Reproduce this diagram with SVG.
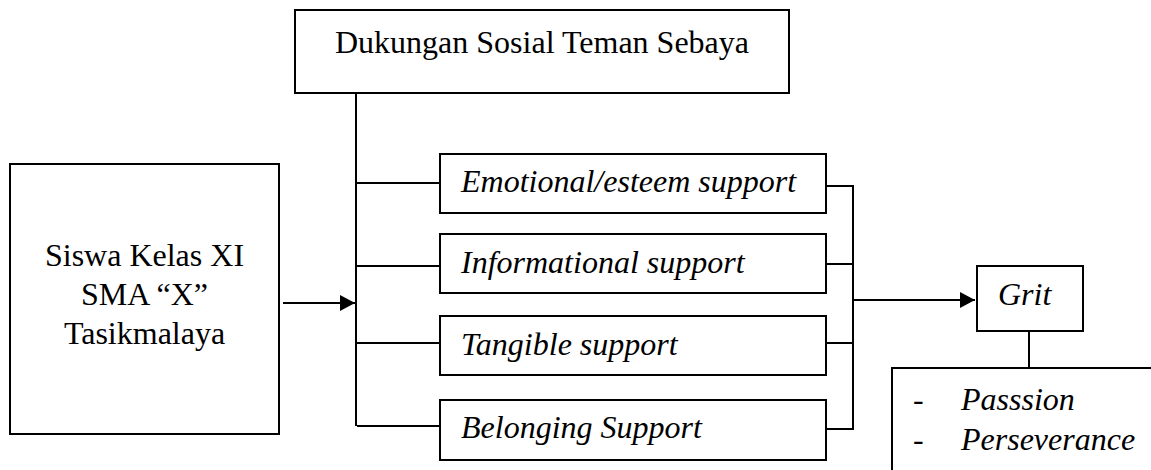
<svg xmlns="http://www.w3.org/2000/svg" width="1151" height="470" viewBox="0 0 1151 470">
<style>
.box{fill:#fff;stroke:#000;stroke-width:2}
.ln{fill:none;stroke:#000;stroke-width:2}
.t{font-size:32px;fill:#000}
.i{font-style:italic}
</style>
<defs>
<marker id="ah" viewBox="0 0 15 16" refX="15" refY="8" markerWidth="15" markerHeight="16" markerUnits="userSpaceOnUse" orient="auto">
<path d="M0,0 L15,8 L0,16 Z" fill="#000"/>
</marker>
</defs>
<rect width="1151" height="470" fill="#fff"/>
<g id="connectors">
<path class="ln" d="M356,93 V426"/>
<path class="ln" d="M357,183 H440 M357,266 H440 M357,343 H440 M357,426 H440"/>
<path class="ln" d="M283,303 H355" marker-end="url(#ah)"/>
<path class="ln" d="M826,186 H853 V429 H826"/>
<path class="ln" d="M823,264 H852 M823,343 H852"/>
<path class="ln" d="M853,300 H975" marker-end="url(#ah)"/>
<path class="ln" d="M1029,331 V368"/>
</g>
<g font-family="'Liberation Serif', 'Times New Roman', Tinos, 'DejaVu Serif', serif">
<g id="dukungan">
<rect class="box" x="295" y="10" width="494" height="83"/>
<text class="t" x="542" y="53" text-anchor="middle">Dukungan Sosial Teman Sebaya</text>
</g>
<g id="siswa">
<rect class="box" x="10" y="164" width="269" height="270"/>
<text class="t" x="144.5" y="266" text-anchor="middle">Siswa Kelas XI</text>
<text class="t" x="144.5" y="305" text-anchor="middle">SMA “X”</text>
<text class="t" x="144.5" y="344" text-anchor="middle">Tasikmalaya</text>
</g>
<g id="emotional">
<rect class="box" x="440" y="154" width="386" height="59"/>
<text class="t i" x="461" y="192">Emotional/esteem support</text>
</g>
<g id="informational">
<rect class="box" x="440" y="234" width="386" height="59"/>
<text class="t i" x="461" y="273">Informational support</text>
</g>
<g id="tangible">
<rect class="box" x="440" y="316" width="386" height="59"/>
<text class="t i" x="461" y="355">Tangible support</text>
</g>
<g id="belonging">
<rect class="box" x="440" y="400" width="386" height="60"/>
<text class="t i" x="461" y="438">Belonging Support</text>
</g>
<g id="grit">
<rect class="box" x="977" y="266" width="106" height="65"/>
<text class="t i" x="998" y="305">Grit</text>
</g>
<g id="aspects">
<rect class="box" x="892" y="368" width="280" height="120"/>
<text class="t" x="913" y="410">-</text>
<text class="t i" x="961" y="410">Passsion</text>
<text class="t" x="913" y="450">-</text>
<text class="t i" x="961" y="450">Perseverance</text>
</g>
</g>
</svg>
